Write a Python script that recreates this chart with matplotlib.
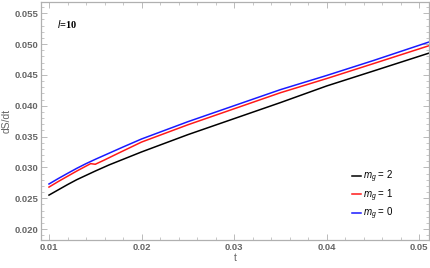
import numpy as np
import matplotlib.pyplot as plt
from matplotlib.ticker import MultipleLocator

# values
t_black = [0.01, 0.011, 0.012, 0.013, 0.014, 0.015, 0.0165, 0.018, 0.02, 0.025, 0.03, 0.035, 0.04, 0.045, 0.051]
y_black = [0.0255, 0.02635, 0.0272, 0.0280, 0.0287, 0.0294, 0.0304, 0.0313, 0.0325, 0.0353, 0.0379, 0.0405, 0.0432, 0.0456, 0.0485]

t_red = [0.01, 0.011, 0.012, 0.013, 0.014, 0.0145, 0.015, 0.016, 0.0175, 0.02, 0.0225, 0.025, 0.03, 0.035, 0.04, 0.045, 0.051]
y_red = [0.0268, 0.0277, 0.02855, 0.0294, 0.0302, 0.0306, 0.0305, 0.0312, 0.0323, 0.0341, 0.0355, 0.0369, 0.0395, 0.0421, 0.0444, 0.0468, 0.0497]

t_blue = [0.01, 0.011, 0.012, 0.013, 0.014, 0.015, 0.0165, 0.018, 0.02, 0.025, 0.03, 0.035, 0.04, 0.045, 0.051]
y_blue = [0.0273, 0.02818, 0.02902, 0.02984, 0.0306, 0.0313, 0.0323, 0.0333, 0.0346, 0.0374, 0.0400, 0.0426, 0.0449, 0.0473, 0.0503]

labels = [r'$m_g$ = 2', r'$m_g$ = 1', r'$m_g$ = 0']
colors = ['black', '#ff1a1a', '#1a1aff']

gray = '#666666'
plt.rcParams['font.family'] = 'Liberation Sans'
plt.rcParams['mathtext.fontset'] = 'custom'
plt.rcParams['mathtext.it'] = 'Liberation Sans:italic'

fig = plt.figure(figsize=(4.31, 2.68), dpi=100)
ax = fig.add_axes([0.0951, 0.1045, 0.9003, 0.888])

for t, y, c, lab in zip([t_black, t_red, t_blue], [y_black, y_red, y_blue], colors, labels):
    ax.plot(t, y, color=c, lw=1.1, label=lab)

ax.set_xlim(0.009136, 0.05105)
ax.set_ylim(0.01822, 0.05681)

ax.xaxis.set_major_locator(MultipleLocator(0.01))
ax.xaxis.set_minor_locator(MultipleLocator(0.002))
ax.yaxis.set_major_locator(MultipleLocator(0.005))
ax.yaxis.set_minor_locator(MultipleLocator(0.001))
ax.xaxis.set_major_formatter(plt.FuncFormatter(lambda v, p: '%.2f' % v))
ax.yaxis.set_major_formatter(plt.FuncFormatter(lambda v, p: '%.3f' % v))

ax.tick_params(which='both', direction='in', top=True, right=True, color='#b0b0b0',
               labelsize=6.8, labelcolor=gray, pad=2)
ax.tick_params(which='major', length=4, width=0.6)
ax.tick_params(which='minor', length=2, width=0.5)
for lbl in ax.get_xticklabels() + ax.get_yticklabels():
    lbl.set_fontweight('bold')
for s in ax.spines.values():
    s.set_color('#b0b0b0')
    s.set_linewidth(0.9)

ax.set_xlabel('t', fontsize=7.5, color=gray, labelpad=1)
ax.set_ylabel('dS/dt', fontsize=7.5, color=gray, labelpad=2)

ax.text(0.04, 0.89, r'$l$=10', transform=ax.transAxes, fontsize=7.5,
        family='Liberation Serif', weight='bold')

leg = ax.legend(loc='lower left', bbox_to_anchor=(0.79, 0.055), frameon=False,
                fontsize=7, handlelength=0.9, handletextpad=0.2, labelspacing=0.2,
                borderpad=0)

fig.savefig('out.png', dpi=100)
